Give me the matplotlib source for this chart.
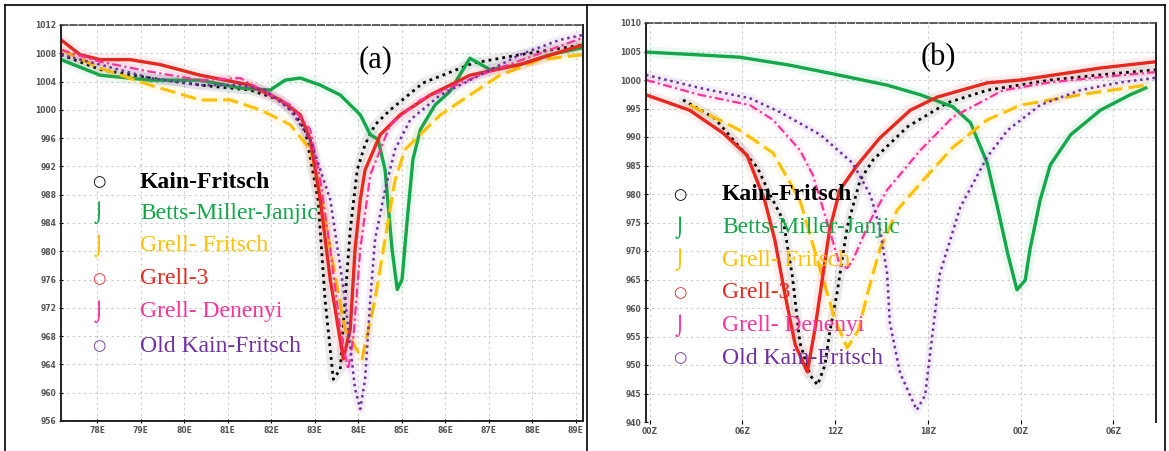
import matplotlib
matplotlib.use("Agg")
import matplotlib.pyplot as plt
from matplotlib.lines import Line2D
import numpy as np

W, H = 1169, 451

# ---- data: panel (a) ----
a_xlabels = ["78E", "79E", "80E", "81E", "82E", "83E", "84E", "85E", "86E", "87E", "88E", "89E"]
a_yticks = list(range(956, 1013, 4))

a_kf_x = [-0.83, 0.07, 1.22, 2.37, 3.52, 4.21, 4.55, 4.78, 5.08, 5.24, 5.43, 5.59, 5.70, 5.82, 5.98, 6.16, 6.39, 6.74, 7.49, 8.64, 9.72, 11.17]
a_kf_y = [1007.8, 1005.7, 1004.5, 1003.5, 1002.8, 1001.4, 999.3, 997.2, 987.3, 973.2, 961.9, 963.3, 973.2, 983.1, 991.5, 995.1, 997.9, 1000.0, 1003.8, 1006.6, 1007.8, 1009.2]

a_bmj_x = [-0.83, 0.07, 1.22, 2.37, 3.29, 3.98, 4.32, 4.67, 5.13, 5.59, 6.05, 6.28, 6.46, 6.62, 6.78, 6.90, 7.01, 7.13, 7.26, 7.43, 7.77, 8.11, 8.57, 9.03, 9.72, 10.41, 11.17]
a_bmj_y = [1007.1, 1004.9, 1004.2, 1004.2, 1003.1, 1002.8, 1004.2, 1004.5, 1003.5, 1002.1, 999.3, 996.5, 995.8, 991.5, 980.3, 974.6, 976.0, 984.5, 993.0, 997.2, 1000.7, 1002.6, 1007.3, 1005.7, 1006.4, 1007.8, 1008.8]

a_gf_x = [-0.83, 0.07, 1.22, 2.37, 3.06, 3.75, 4.44, 4.90, 5.13, 5.36, 5.70, 6.09, 6.39, 6.62, 6.85, 7.08, 7.43, 7.89, 8.57, 9.26, 10.18, 11.17]
a_gf_y = [1008.5, 1005.9, 1003.5, 1001.4, 1001.4, 1000.0, 997.9, 994.4, 988.7, 980.3, 969.0, 964.8, 973.2, 981.7, 990.1, 994.4, 996.5, 999.3, 1002.1, 1004.9, 1007.1, 1007.8]

a_g3_x = [-0.83, -0.39, 0.07, 0.76, 1.45, 2.37, 3.52, 4.21, 4.67, 4.90, 5.13, 5.36, 5.66, 5.82, 5.93, 6.05, 6.16, 6.51, 6.97, 7.66, 8.57, 9.72, 11.17]
a_g3_y = [1009.9, 1007.8, 1007.1, 1007.1, 1006.4, 1004.9, 1003.5, 1001.4, 999.3, 995.8, 987.3, 976.0, 964.8, 969.0, 980.3, 987.3, 991.5, 996.5, 999.3, 1002.1, 1004.9, 1006.4, 1009.2]

a_gd_x = [-0.83, 0.07, 1.22, 2.37, 3.29, 3.98, 4.44, 4.90, 5.13, 5.36, 5.59, 5.77, 5.89, 6.05, 6.28, 6.74, 7.43, 8.80, 11.17]
a_gd_y = [1008.5, 1006.8, 1005.4, 1004.2, 1004.5, 1002.1, 1000.7, 997.2, 990.1, 980.3, 969.0, 963.3, 967.6, 980.3, 990.8, 997.9, 1001.4, 1004.9, 1010.2]

a_okf_x = [-0.83, 0.07, 1.22, 2.37, 3.29, 3.86, 4.44, 4.90, 5.36, 5.70, 5.93, 6.05, 6.16, 6.28, 6.39, 6.62, 6.85, 7.20, 7.89, 8.80, 9.72, 10.64, 11.17]
a_okf_y = [1007.8, 1006.4, 1004.5, 1003.5, 1003.5, 1002.8, 1000.0, 995.8, 987.3, 973.2, 960.5, 957.7, 961.9, 973.2, 981.7, 988.7, 994.4, 998.6, 1002.1, 1004.9, 1007.8, 1009.9, 1010.6]

# ---- data: panel (b) ----
b_xlabels = ["00Z", "06Z", "12Z", "18Z", "00Z", "06Z"]
b_yticks = list(range(940, 1011, 5))

b_kf_x = [0.36, 0.70, 0.97, 1.16, 1.30, 1.44, 1.54, 1.62, 1.73, 1.81, 1.89, 1.94, 2.02, 2.13, 2.27, 2.41, 2.78, 3.21, 3.64, 4.32, 4.86, 5.46]
b_kf_y = [996.5, 993.3, 988.2, 984.7, 979.8, 975.4, 965.4, 953.9, 948.2, 946.5, 950.0, 955.6, 962.6, 974.2, 982.5, 986.0, 991.8, 996.0, 998.2, 1000.0, 1000.9, 1001.8]

b_bmj_x = [-0.04, 0.54, 0.97, 1.51, 1.94, 2.56, 2.92, 3.27, 3.46, 3.64, 3.75, 3.86, 3.96, 4.05, 4.10, 4.21, 4.32, 4.54, 4.86, 5.18, 5.35]
b_bmj_y = [1004.9, 1004.4, 1004.0, 1002.6, 1001.2, 999.1, 997.4, 995.3, 992.5, 985.4, 977.7, 969.6, 963.2, 964.9, 970.2, 978.9, 985.1, 990.4, 994.7, 997.4, 998.6]

b_gf_x = [0.43, 0.97, 1.33, 1.62, 1.84, 2.00, 2.13, 2.25, 2.36, 2.48, 2.67, 2.92, 3.27, 3.64, 4.00, 4.64, 5.35]
b_gf_y = [995.6, 991.2, 987.2, 978.9, 966.7, 957.9, 953.0, 956.1, 963.2, 970.2, 977.2, 981.9, 988.2, 993.0, 995.6, 997.4, 999.1]

b_g3_x = [-0.04, 0.43, 0.79, 1.05, 1.24, 1.35, 1.46, 1.57, 1.70, 1.78, 1.86, 1.94, 2.05, 2.24, 2.48, 2.81, 3.10, 3.64, 4.00, 4.86, 5.46]
b_g3_y = [997.4, 994.7, 990.7, 986.8, 978.9, 971.9, 962.3, 953.5, 948.8, 956.1, 964.9, 973.7, 980.7, 985.1, 989.8, 994.7, 997.0, 999.5, 1000.0, 1002.1, 1003.2]

b_gd_x = [-0.04, 0.54, 1.08, 1.33, 1.62, 1.76, 1.89, 1.98, 2.05, 2.13, 2.19, 2.38, 2.56, 2.92, 3.27, 3.81, 4.32, 4.86, 5.46]
b_gd_y = [1000.0, 997.4, 995.6, 993.0, 987.7, 983.3, 976.3, 971.4, 967.5, 967.0, 968.4, 975.4, 980.7, 987.7, 993.5, 998.2, 999.6, 1000.5, 1001.4]

b_okf_x = [-0.04, 0.54, 1.08, 1.40, 1.84, 2.19, 2.38, 2.48, 2.56, 2.59, 2.70, 2.83, 2.88, 2.97, 3.02, 3.08, 3.13, 3.35, 3.64, 3.86, 4.21, 4.64, 5.08, 5.46]
b_okf_y = [1000.9, 998.6, 996.8, 994.4, 990.4, 985.4, 979.8, 974.2, 966.1, 957.4, 948.6, 943.9, 942.1, 944.7, 951.4, 959.6, 966.1, 977.7, 986.5, 991.2, 995.6, 998.2, 999.6, 1000.4]

names = ["Kain-Fritsch", "Betts-Miller-Janjic", "Grell- Fritsch", "Grell-3", "Grell- Denenyi", "Old Kain-Fritsch"]
colors = ["#000000", "#12a84a", "#ffc000", "#e8281e", "#ff3399", "#7030a0"]
glyphs = ["\u25cb", "\u2321", "\u2321", "\u25cb", "\u2321", "\u25cb"]
styles = [(0, (1, 1.5)), "-", (0, (5, 2)), "-", (0, (4, 1.5, 1, 1.5)), (0, (1, 1.5))]
widths = [2.0, 2.4, 2.2, 2.4, 1.6, 1.8]

plt.rcParams["font.family"] = ["Liberation Serif", "DejaVu Sans"]
fig = plt.figure(figsize=(W / 100, H / 100), dpi=100)
fig.patch.set_facecolor("white")


def setup(ax, xlim, ylim, yticks, xlabels):
    ax.set_xlim(*xlim)
    ax.set_ylim(*ylim)
    ax.set_yticks(yticks)
    ax.set_yticklabels([str(v) for v in yticks], fontsize=5.5, color="#555555",
                       family="DejaVu Sans", fontweight="bold")
    ax.set_xticks(range(len(xlabels)))
    ax.set_xticklabels(xlabels, fontsize=5.5, color="#555555", family="DejaVu Sans", fontweight="bold")
    ax.tick_params(length=3, width=0.8, direction="inout", pad=2)
    ax.grid(color="#cccccc", linestyle=(0, (2, 3)), linewidth=0.8)
    ax.set_axisbelow(True)
    for s in ["left", "bottom", "right"]:
        ax.spines[s].set_linewidth(1.4)
        ax.spines[s].set_color("#222222")
    ax.spines["top"].set_linestyle((0, (4, 1.5)))
    ax.spines["top"].set_color("#444444")
    ax.spines["top"].set_linewidth(1.2)


def draw(ax, series):
    for (x, y), c, ls, lw in zip(series, colors, styles, widths):
        ax.plot(x, y, color=c, lw=lw * 3.5, alpha=0.08, solid_capstyle="round")
        ax.plot(x, y, color=c, lw=lw, linestyle=ls)


def legend(gx, tx, rows):
    for name, c, g, ry in zip(names, colors, glyphs, rows):
        fig.text(gx / W, 1 - ry / H, g, color=c, fontsize=11 if g == "\u25cb" else 14,
                 ha="center", va="center", family="DejaVu Sans")
        fig.text(tx / W, 1 - ry / H, name, color=c, fontsize=17, ha="left", va="center",
                 fontweight="bold" if name == "Kain-Fritsch" else "normal")


ax1 = fig.add_axes([61 / W, 1 - 421 / H, 522 / W, 396 / H])
setup(ax1, (-0.83, 11.17), (956, 1012), a_yticks, a_xlabels)
draw(ax1, [(a_kf_x, a_kf_y), (a_bmj_x, a_bmj_y), (a_gf_x, a_gf_y),
           (a_g3_x, a_g3_y), (a_gd_x, a_gd_y), (a_okf_x, a_okf_y)])

ax2 = fig.add_axes([646 / W, 1 - 422 / H, 510 / W, 399 / H])
setup(ax2, (-0.04, 5.46), (940, 1010), b_yticks, b_xlabels)
ax2.spines["bottom"].set_visible(False)
draw(ax2, [(b_kf_x, b_kf_y), (b_bmj_x, b_bmj_y), (b_gf_x, b_gf_y),
           (b_g3_x, b_g3_y), (b_gd_x, b_gd_y), (b_okf_x, b_okf_y)])

legend(99, 140, [182, 213, 246, 279, 312, 346])
legend(680, 722, [195, 228, 260, 293, 326, 358])

fig.text(376 / W, 1 - 60 / H, "(a)", fontsize=22, ha="center", va="center")
fig.text(938 / W, 1 - 58 / H, "(b)", fontsize=22, ha="center", va="center")

# outer frame like a table cell border
for x0, y0, x1, y1 in [(5, 5, 1165, 5), (5, 5, 5, 451), (587, 5, 587, 451), (1165, 5, 1165, 451)]:
    fig.add_artist(Line2D([x0 / W, x1 / W], [1 - y0 / H, 1 - y1 / H], color="black", lw=1.2))

fig.savefig("out.png", dpi=100)
